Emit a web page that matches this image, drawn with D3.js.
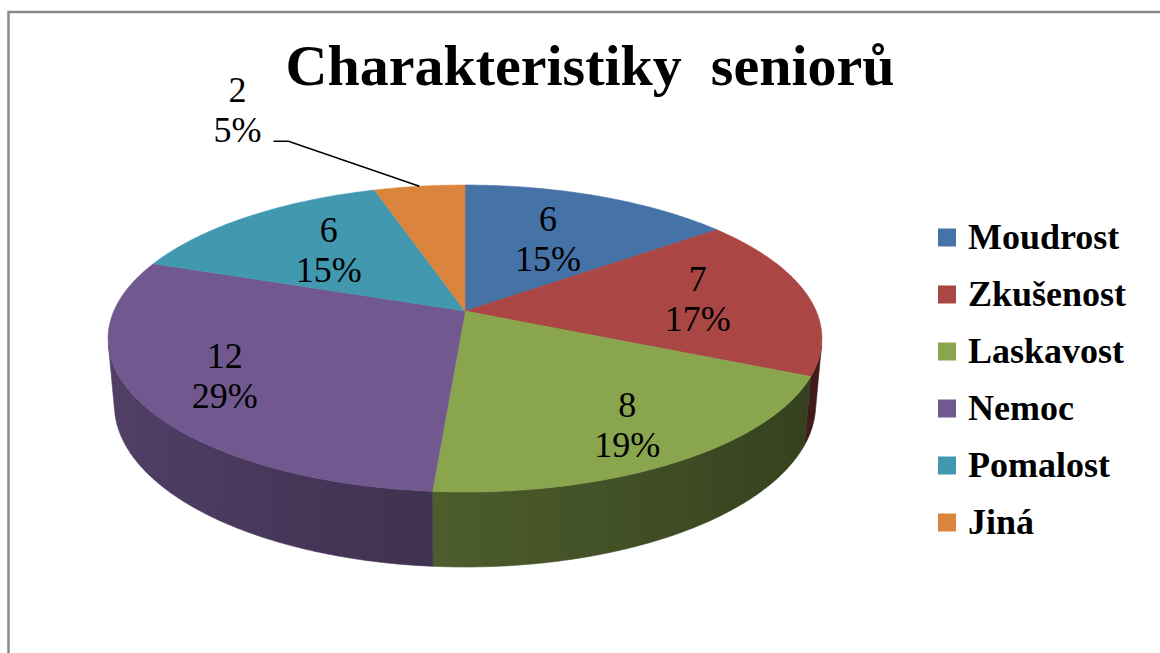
<!DOCTYPE html>
<html><head><meta charset="utf-8">
<script src="https://cdn.jsdelivr.net/npm/d3@7"></script>
<style>body{margin:0;background:#fff} svg{display:block}</style>
</head><body>
<svg id="c" width="1160" height="653" font-family="Liberation Serif"></svg>
<script>
const categories = ["Moudrost", "Zkušenost", "Laskavost", "Nemoc", "Pomalost", "Jiná"];
const values = [6, 7, 8, 12, 6, 2];
const colors = ["#4572A7", "#AA4643", "#89A54E", "#71588F", "#4198AF", "#DB843D"];
const titleText = "Charakteristiky  seniorů";

const svg = d3.select("#c");
const serif = '"Liberation Serif"';

// perspective projection of the 3D pie
const cx = 465, cy = 311, F = 1775, D = 5.055, S = 0.423, K = 0.906, TH = 0.2076;
function proj(rho, t, y) {
  const x = rho * Math.sin(t), z = -rho * Math.cos(t);
  const depth = D - S * y - K * z;
  return [cx + F * x / depth, cy - F * (K * y - S * z) / depth];
}
function samples(a, b) {
  const n = Math.max(2, Math.ceil(Math.abs(b - a) / 0.008));
  return d3.range(n + 1).map(i => a + (b - a) * i / n);
}

const total = d3.sum(values);
const arcs = d3.pie().sort(null).value(d => d)(values);
const color = d3.scaleOrdinal().domain(categories).range(colors);

// percentages (largest remainder so they sum to 100)
const raw = values.map(v => v / total * 100);
const pct = raw.map(Math.floor);
let rest = 100 - d3.sum(pct);
raw.map((r, i) => [r - Math.floor(r), i]).sort((a, b) => b[0] - a[0])
  .slice(0, rest).forEach(([, i]) => pct[i] += 1);

const line = d3.line();
const defs = svg.append("defs");
const shade = t => 0.55 - 0.18 * Math.sin(t);

// side walls (only the front-facing part is visible)
const vis = Math.acos(-1 / (D * K));
const gWall = svg.append("g");
arcs.forEach((a, i) => {
  const lo = Math.max(a.startAngle, vis), hi = Math.min(a.endAngle, 2 * Math.PI - vis);
  if (lo >= hi) return;
  const ts = samples(lo, hi);
  const top = ts.map(t => proj(1, t, 0));
  const bot = ts.slice().reverse().map(t => proj(1, t, -TH));
  const x0 = top[0][0], x1 = top[top.length - 1][0];
  const gid = "wall" + i;
  const grad = defs.append("linearGradient").attr("id", gid)
    .attr("gradientUnits", "userSpaceOnUse")
    .attr("x1", x0).attr("y1", 0).attr("x2", x1).attr("y2", 0);
  const base = d3.rgb(color(categories[i]));
  ts.filter((_, k, arr) => k % 6 === 0 || k === arr.length - 1).forEach(t => {
    const f = shade(t);
    const px = proj(1, t, 0)[0];
    grad.append("stop").attr("offset", Math.abs(x1 - x0) < 1e-6 ? 0 : (px - x0) / (x1 - x0))
      .attr("stop-color", d3.rgb(base.r * f, base.g * f, base.b * f).formatHex());
  });
  gWall.append("path").attr("d", line(top.concat(bot)) + "Z")
    .attr("fill", `url(#${gid})`).attr("stroke", `url(#${gid})`).attr("stroke-width", 0.6);
});

// top faces
const gTop = svg.append("g");
arcs.forEach((a, i) => {
  const pts = [proj(0, 0, 0)].concat(samples(a.startAngle, a.endAngle).map(t => proj(1, t, 0)));
  gTop.append("path").attr("d", line(pts) + "Z")
    .attr("fill", color(categories[i])).attr("stroke", color(categories[i])).attr("stroke-width", 0.6);
});

// chart frame
svg.append("path").attr("d", line([[8.5, 653], [8.5, 12], [1160, 12]]))
  .attr("fill", "none").attr("stroke", "#8a8a8a").attr("stroke-width", 2.5);

// title
svg.append("text").attr("x", 590).attr("y", 85).attr("text-anchor", "middle")
  .attr("font-family", "Liberation Serif").style("font-family", serif)
  .attr("font-size", 58).attr("font-weight", "bold")
  .attr("fill", "#000").style("white-space", "pre").text(titleText);

// data labels
function labelText(x, y, str) {
  svg.append("text").attr("x", x).attr("y", y).attr("text-anchor", "middle")
    .attr("font-family", "Liberation Serif").style("font-family", serif)
    .attr("font-size", 36).attr("fill", "#000").text(str);
}
arcs.forEach((a, i) => {
  const mid = (a.startAngle + a.endAngle) / 2;
  const frac = values[i] / total;
  if (frac >= 0.08) {
    const rho = 0.69 - 0.12 * Math.cos(mid);
    const [x, y] = proj(rho, mid, 0);
    labelText(x, y - 9, values[i]);
    labelText(x, y + 31, pct[i] + "%");
  } else {
    const anchor = proj(1, mid, 0);
    const elbow = [anchor[0] - 131, anchor[1] - 45];
    const end = [elbow[0] - 15, elbow[1]];
    svg.append("path").attr("d", line([anchor, elbow, end]))
      .attr("fill", "none").attr("stroke", "#000").attr("stroke-width", 1.6);
    labelText(end[0] - 36, end[1] - 39, values[i]);
    labelText(end[0] - 36, end[1] + 1, pct[i] + "%");
  }
});

// legend
const rowY = d3.scalePoint().domain(categories).range([237.5, 522.5]);
categories.forEach(c => {
  const y = rowY(c);
  svg.append("rect").attr("x", 938).attr("y", y - 9).attr("width", 18).attr("height", 18)
    .attr("fill", color(c));
  svg.append("text").attr("x", 968).attr("y", y + 11)
    .attr("font-family", "Liberation Serif").style("font-family", serif)
    .attr("font-size", 36).attr("font-weight", "bold")
    .attr("fill", "#000").text(c);
});
</script>
</body></html>
